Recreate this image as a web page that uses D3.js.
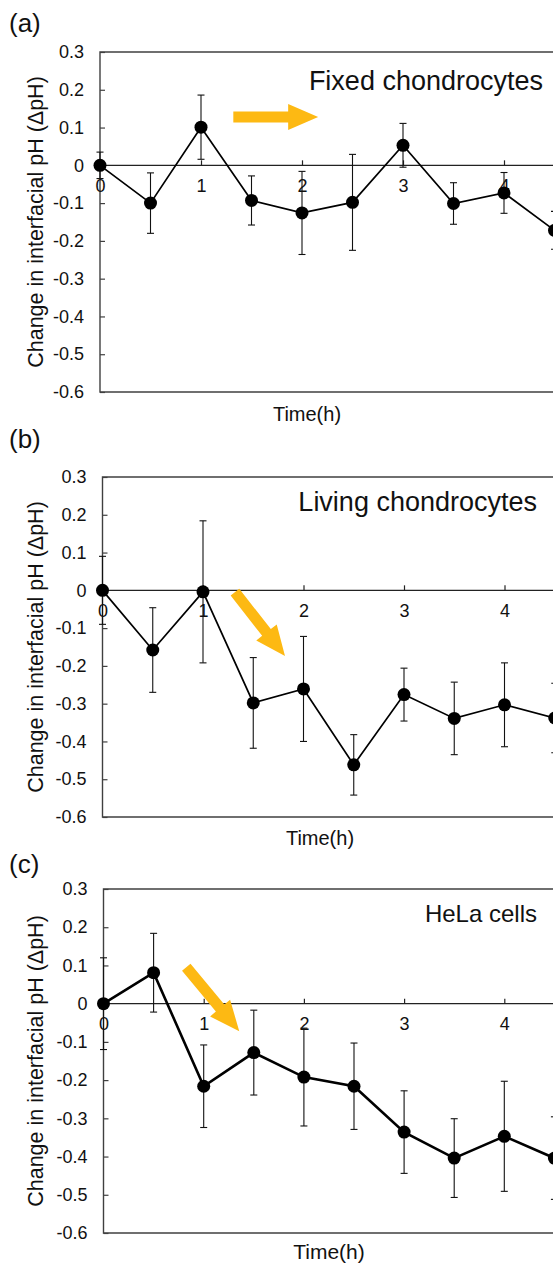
<!DOCTYPE html>
<html>
<head>
<meta charset="utf-8">
<script src="https://cdn.jsdelivr.net/npm/d3@7"></script>
<style>
  html, body { margin: 0; padding: 0; background: #fff; overflow: hidden; }
  svg { display: block; font-family: "Liberation Sans", Arial, sans-serif; }
</style>
</head>
<body>
<svg id="chart" width="553" height="1263"></svg>
<script>
// ---- data ----
const times = [0, 0.5, 1, 1.5, 2, 2.5, 3, 3.5, 4, 4.5];
const fixedMean  = [0, -0.100, 0.101, -0.093, -0.126, -0.098, 0.053, -0.101, -0.073, -0.172];
const fixedErr   = [0.035, 0.080, 0.085, 0.065, 0.110, 0.127, 0.058, 0.055, 0.054, 0.050];
const livingMean = [0, -0.158, -0.004, -0.298, -0.261, -0.462, -0.276, -0.339, -0.303, -0.338];
const livingErr  = [0.090, 0.112, 0.188, 0.120, 0.139, 0.080, 0.070, 0.096, 0.111, 0.092];
const helaMean   = [0, 0.081, -0.216, -0.128, -0.192, -0.216, -0.336, -0.404, -0.347, -0.404];
const helaErr    = [0.120, 0.103, 0.108, 0.111, 0.128, 0.113, 0.108, 0.103, 0.144, 0.108];
const yTicks = [0.3, 0.2, 0.1, 0, -0.1, -0.2, -0.3, -0.4, -0.5, -0.6];
const xTicks = [0, 1, 2, 3, 4];
const panelLetters = ["(a)", "(b)", "(c)"];
const seriesNames = ["Fixed chondrocytes", "Living chondrocytes", "HeLa cells"];
const yTitle = "Change in interfacial pH (ΔpH)";
const xTitle = "Time(h)";
// arrow annotations in data coordinates: [t0, y0, t1, y1]
const arrows = [
  [1.32, 0.128, 2.16, 0.128],
  [1.318, -0.005, 1.816, -0.174],
  [0.826, 0.095, 1.355, -0.072]
];

// ---- layout (pixel placement only) ----
const layout = [
  { x0: 100,   pxh: 101,   top: 52,  bottom: 392,  letterY: 32,  nameY: 90,  nameX: 543, nameSize: 27, titleX: 307, titleDy: 29, titleSize: 20, lw: 1.7 },
  { x0: 102.5, pxh: 100.5, top: 477, bottom: 817,  letterY: 448, nameY: 511, nameX: 537, nameSize: 27, titleX: 320, titleDy: 28, titleSize: 20, lw: 1.7 },
  { x0: 103.5, pxh: 100.2, top: 889, bottom: 1233, letterY: 873, nameY: 922, nameX: 537, nameSize: 24, titleX: 329, titleDy: 26, titleSize: 21, lw: 2.6 }
];
const means = [fixedMean, livingMean, helaMean];
const errs = [fixedErr, livingErr, helaErr];

const svg = d3.select("#chart");
const frameColor = "#404040";
const arrowColor = "#FDB913";

layout.forEach((L, i) => {
  const g = svg.append("g");
  const x = d3.scaleLinear().domain([0, 5]).range([L.x0, L.x0 + 5 * L.pxh]);
  const y = d3.scaleLinear().domain([-0.6, 0.3]).range([L.bottom, L.top]);
  const data = times.map((t, k) => ({ t, m: means[i][k], e: errs[i][k] }));

  // panel letter
  g.append("text").attr("x", 9).attr("y", L.letterY)
    .attr("font-size", 26).attr("fill", "#111").text(panelLetters[i]);

  // frame: top, left, bottom
  g.append("path")
    .attr("d", `M${x(5)},${y(0.3)}H${x(0)}V${y(-0.6)}H${x(5)}`)
    .attr("fill", "none").attr("stroke", frameColor).attr("stroke-width", 1.4);

  // y axis ticks (inward) and labels
  const yAxis = d3.axisLeft(y).tickValues(yTicks).tickSizeInner(-5).tickSizeOuter(0)
    .tickPadding(16).tickFormat(d => d === 0 ? "0" : d.toFixed(1));
  const ya = g.append("g").attr("transform", `translate(${x(0)},0)`).call(yAxis);
  ya.select(".domain").remove();
  ya.selectAll("line").attr("stroke", frameColor).attr("stroke-width", 1.2);
  ya.selectAll("text").attr("font-size", 18).attr("fill", "#111")
    .attr("font-family", "Liberation Sans, Arial, sans-serif");

  // zero line with upward ticks
  const xAxis = d3.axisBottom(x).tickValues(xTicks).tickSizeInner(-5).tickSizeOuter(0)
    .tickPadding(14).tickFormat(d3.format("d"));
  const xa = g.append("g").attr("transform", `translate(0,${y(0)})`).call(xAxis);
  xa.select(".domain").attr("d", `M${x(0)},0H${x(5)}`).attr("stroke", "#222").attr("stroke-width", 1.2);
  xa.selectAll("line").attr("stroke", "#222").attr("stroke-width", 1.2);
  xa.selectAll("text").attr("font-size", 18).attr("fill", "#111")
    .attr("font-family", "Liberation Sans, Arial, sans-serif");

  // y title
  g.append("text")
    .attr("transform", `translate(43,${(L.top + L.bottom) / 2}) rotate(-90)`)
    .attr("text-anchor", "middle").attr("font-size", 21.5).attr("fill", "#111")
    .text(yTitle);

  // x title
  g.append("text").attr("x", L.titleX).attr("y", L.bottom + L.titleDy)
    .attr("text-anchor", "middle").attr("font-size", L.titleSize).attr("fill", "#111")
    .text(xTitle);

  // series name
  g.append("text").attr("x", L.nameX).attr("y", L.nameY)
    .attr("text-anchor", "end").attr("font-size", L.nameSize).attr("fill", "#111")
    .text(seriesNames[i]);

  // arrow
  const [t0, v0, t1, v1] = arrows[i];
  const S = [x(t0), y(v0)], E = [x(t1), y(v1)];
  const dx = E[0] - S[0], dy = E[1] - S[1], len = Math.hypot(dx, dy);
  const u = [dx / len, dy / len], n = [-u[1], u[0]];
  const hl = 30, sw = 5.5, hw = 13;
  const B = [E[0] - u[0] * hl, E[1] - u[1] * hl];
  const pts = [
    [S[0] + n[0] * sw, S[1] + n[1] * sw],
    [B[0] + n[0] * sw, B[1] + n[1] * sw],
    [B[0] + n[0] * hw, B[1] + n[1] * hw],
    E,
    [B[0] - n[0] * hw, B[1] - n[1] * hw],
    [B[0] - n[0] * sw, B[1] - n[1] * sw],
    [S[0] - n[0] * sw, S[1] - n[1] * sw]
  ];
  g.append("path").attr("d", "M" + pts.map(p => p.join(",")).join("L") + "Z")
    .attr("fill", arrowColor);

  // error bars
  const eb = g.append("g").attr("stroke", "#111").attr("stroke-width", 1.1);
  data.forEach(d => {
    if (d.e <= 0) return;
    const cx = x(d.t);
    eb.append("line").attr("x1", cx).attr("x2", cx).attr("y1", y(d.m + d.e)).attr("y2", y(d.m - d.e));
    eb.append("line").attr("x1", cx - 3.5).attr("x2", cx + 3.5).attr("y1", y(d.m + d.e)).attr("y2", y(d.m + d.e));
    eb.append("line").attr("x1", cx - 3.5).attr("x2", cx + 3.5).attr("y1", y(d.m - d.e)).attr("y2", y(d.m - d.e));
  });

  // line
  const line = d3.line().x(d => x(d.t)).y(d => y(d.m));
  g.append("path").datum(data).attr("d", line)
    .attr("fill", "none").attr("stroke", "#000").attr("stroke-width", L.lw);

  // markers
  g.selectAll("circle.pt").data(data).join("circle")
    .attr("cx", d => x(d.t)).attr("cy", d => y(d.m)).attr("r", 6.5).attr("fill", "#000");
});
</script>
</body>
</html>
